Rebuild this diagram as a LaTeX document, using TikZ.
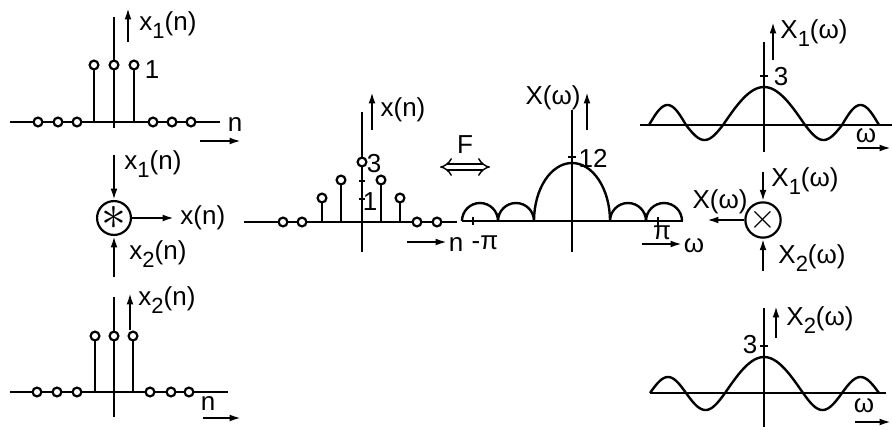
\documentclass[tikz,border=0pt]{standalone}
\usepackage{fontspec}
\setmainfont{Liberation Sans}
\usepackage{tikz}
\usetikzlibrary{arrows.meta,positioning}
\newcommand\lowsub[1]{\raisebox{-0.6ex}{\fontsize{11}{12}\selectfont#1}}
\newcommand\drawlobe[4]{\draw[curve] plot[domain=#1:#2,samples=30] (\x,{#4-(#3)*sin(180*(\x-#1)/(#2-#1))});}
\tikzset{
  axisline/.style={line width=1pt},
  stemline/.style={line width=1.2pt},
  sample/.style={circle,draw,line width=1.1pt,fill=white,inner sep=0pt,minimum size=4.4pt},
  curve/.style={line width=1.2pt,line join=round},
  sigarrow/.style={-{Latex[length=2mm,width=1.2mm]},line width=1pt},
  lbl/.style={font=\fontsize{13}{15}\selectfont,inner sep=1pt},
  opnode/.style={circle,draw,line width=1.1pt,minimum size=15pt,inner sep=0pt},
  fouarrow/.style={{Implies}-{Implies},double,double distance=2.4pt,line width=0.7pt}
}
\begin{document}
\begin{tikzpicture}[x=0.5pt,y=-0.5pt]
  \useasboundingbox (0,0) rectangle (892,429);
  % x1(n)
  \draw[axisline] (10,122) -- (220,122);
  \draw[axisline] (114,17) -- (114,128);
  \draw[stemline] (94,122) -- (94,65) node[sample] (xoneA) {};
  \draw[stemline] (114,122) -- (114,65) node[sample] (xoneB) {};
  \draw[stemline] (134,122) -- (134,65) node[sample] (xoneC) {};
  \foreach \px [count=\k] in {38,58,77,153,172,191} \node[sample] (xonez\k) at (\px,122) {};
  \node[lbl] (xoneone) at (152,70) {1};
  \coordinate (xonetail) at (128,42);
  \coordinate (xonehead) at (128,8);
  \draw[sigarrow] (xonetail) -- (xonehead);
  \node[lbl,anchor=west] (xonelab) at (137,25) {x\lowsub{1}(n)};
  \node[lbl] (xonen) at (235,124) {n};
  \coordinate (xonenA) at (200,141);
  \coordinate (xonenB) at (241,141);
  \draw[sigarrow] (xonenA) -- (xonenB);

  % convolution
  \node[opnode] (conv) at (114,218) {\Huge$\ast$};
  \coordinate (convinA) at (114,155);
  \coordinate (convinB) at (114,277);
  \draw[sigarrow] (convinA) -- (conv.north);
  \draw[sigarrow] (convinB) -- (conv.south);
  \node[lbl,anchor=west] (convlabA) at (122,164) {x\lowsub{1}(n)};
  \node[lbl,anchor=west] (convlabB) at (127,254) {x\lowsub{2}(n)};
  \node[lbl,anchor=west] (convout) at (178,218) {x(n)};
  \draw[sigarrow] (conv.east) -- ([xshift=-2pt]convout.west);

  % x2(n)
  \draw[axisline] (10,392) -- (228,392);
  \draw[axisline] (114,297) -- (114,417);
  \draw[stemline] (95,392) -- (95,336) node[sample] (xtwoA) {};
  \draw[stemline] (114,392) -- (114,336) node[sample] (xtwoB) {};
  \draw[stemline] (133,392) -- (133,336) node[sample] (xtwoC) {};
  \foreach \px [count=\k] in {37,57,77,150,171,189} \node[sample] (xtwoz\k) at (\px,392) {};
  \coordinate (xtwotail) at (130,330);
  \coordinate (xtwohead) at (130,293);
  \draw[sigarrow] (xtwotail) -- (xtwohead);
  \node[lbl,anchor=west] (xtwolab) at (136,300) {x\lowsub{2}(n)};
  \node[lbl] (xtwon) at (208,403) {n};
  \coordinate (xtwonA) at (203,418);
  \coordinate (xtwonB) at (241,418);
  \draw[sigarrow] (xtwonA) -- (xtwonB);

  % x(n)
  \draw[axisline] (244,222) -- (457,222);
  \draw[axisline] (362,112) -- (362,252);
  \draw[axisline] (359,199) -- (365,199);
  \draw[axisline] (359,181) -- (365,181);
  \draw[stemline] (322,222) -- (322,198) node[sample] (xnA) {};
  \draw[stemline] (341,222) -- (341,180) node[sample] (xnB) {};
  \node[sample] (xnC) at (362,162) {};
  \draw[stemline] (381,222) -- (381,180) node[sample] (xnD) {};
  \draw[stemline] (400,222) -- (400,198) node[sample] (xnE) {};
  \foreach \px [count=\k] in {283,302,417,437} \node[sample] (xnz\k) at (\px,222) {};
  \node[lbl] (xnthree) at (374,164) {3};
  \node[lbl] (xnone) at (370,202) {1};
  \coordinate (xntail) at (372,130);
  \coordinate (xnhead) at (372,92);
  \draw[sigarrow] (xntail) -- (xnhead);
  \node[lbl] (xnlab) at (403,110) {x(n)};
  \coordinate (xnnA) at (407,242);
  \coordinate (xnnB) at (447,242);
  \draw[sigarrow] (xnnA) -- (xnnB);
  \node[lbl] (xnn) at (456,244) {n};

  % Fourier pair
  \coordinate (fouL) at (440,167);
  \coordinate (fouR) at (490,167);
  \draw[fouarrow] (fouL) -- (fouR);
  \node[lbl] (foulab) at (465,145) {F};

  % X(omega)
  \draw[axisline] (462,221) -- (683,221);
  \draw[axisline] (572,110) -- (572,252);
  \draw[axisline] (568,157) -- (576,157);
  \draw[axisline] (473,217) -- (473,225);
  \draw[axisline] (658,217) -- (658,226);
  \draw[curve] (534,221) arc[start angle=180,end angle=360,x radius=38,y radius=58];
  \draw[curve] (462,221) arc[start angle=180,end angle=360,radius=18];
  \draw[curve] (498,221) arc[start angle=180,end angle=360,radius=18];
  \draw[curve] (610,221) arc[start angle=180,end angle=360,radius=18];
  \draw[curve] (646,221) arc[start angle=180,end angle=360,radius=18];
  \node[lbl] (bigXtwelve) at (593,158) {12};
  \coordinate (bigXtail) at (587,130);
  \coordinate (bigXhead) at (587,92);
  \draw[sigarrow] (bigXtail) -- (bigXhead);
  \node[lbl] (bigXlab) at (553,98) {X(ω)};
  \node[lbl] (bigXmpi) at (485,243) {-π};
  \node[lbl] (bigXpi) at (662,233) {π};
  \coordinate (bigXwA) at (642,244);
  \coordinate (bigXwB) at (682,244);
  \draw[sigarrow] (bigXwA) -- (bigXwB);
  \node[lbl] (bigXw) at (694,246) {ω};

  % multiplication
  \node[opnode] (mult) at (763,220) {\LARGE$\times$};
  \coordinate (multinA) at (763,172);
  \coordinate (multinB) at (763,271);
  \coordinate (multend) at (707,220);
  \draw[sigarrow] (multinA) -- (mult.north);
  \draw[sigarrow] (multinB) -- (mult.south);
  \draw[sigarrow] (mult.west) -- (multend);
  \node[lbl] (multlabA) at (805,181) {X\lowsub{1}(ω)};
  \node[lbl] (multlabB) at (812,258) {X\lowsub{2}(ω)};
  \node[lbl] (multout) at (720,202) {X(ω)};

  % X1(omega)
  \draw[axisline] (640,125) -- (892,125);
  \draw[axisline] (764,42) -- (764,152);
  \draw[axisline] (760,76) -- (768,76);
  \drawlobe{649}{686}{20}{125}
  \drawlobe{686}{723}{-15}{125}
  \drawlobe{723}{805}{38}{125}
  \drawlobe{805}{842}{-15}{125}
  \drawlobe{842}{879}{20}{125}
  \node[lbl] (xonewthree) at (781,77) {3};
  \coordinate (xonewtail) at (773,60);
  \coordinate (xonewhead) at (773,22);
  \draw[sigarrow] (xonewtail) -- (xonewhead);
  \node[lbl] (xonewlab) at (814,33) {X\lowsub{1}(ω)};
  \node[lbl] (xoneww) at (866,136) {ω};
  \coordinate (xonewwA) at (857,148);
  \coordinate (xonewwB) at (891,148);
  \draw[sigarrow] (xonewwA) -- (xonewwB);

  % X2(omega)
  \draw[axisline] (650,393) -- (886,393);
  \draw[axisline] (764,308) -- (764,427);
  \draw[axisline] (760,346) -- (768,346);
  \drawlobe{650}{686}{16}{393}
  \drawlobe{686}{725}{-17}{393}
  \drawlobe{725}{803}{36}{393}
  \drawlobe{803}{842}{-17}{393}
  \drawlobe{842}{879}{16}{393}
  \node[lbl] (xtwowthree) at (750,345) {3};
  \coordinate (xtwowtail) at (776,338);
  \coordinate (xtwowhead) at (776,306);
  \draw[sigarrow] (xtwowtail) -- (xtwowhead);
  \node[lbl] (xtwowlab) at (820,320) {X\lowsub{2}(ω)};
  \node[lbl] (xtwoww) at (864,406) {ω};
  \coordinate (xtwowwA) at (855,422);
  \coordinate (xtwowwB) at (891,422);
  \draw[sigarrow] (xtwowwA) -- (xtwowwB);
\end{tikzpicture}
\end{document}
